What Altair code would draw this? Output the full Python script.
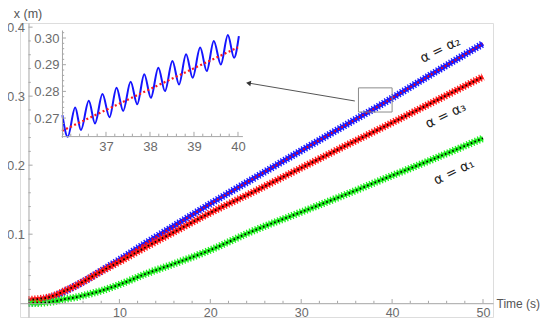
import altair as alt
import pandas as pd

# ---------------- data ----------------
t_main = [0, 1, 2, 3, 4, 5, 6, 8, 10, 13, 16, 20, 24.4, 30, 35, 38.7, 44, 50]
x_alpha2 = [0.000, 0.002, 0.006, 0.011, 0.017, 0.024, 0.031, 0.047, 0.063, 0.088, 0.112, 0.144, 0.178, 0.221, 0.259, 0.287, 0.329, 0.376]
x_alpha3 = [0.005, 0.006, 0.008, 0.012, 0.018, 0.024, 0.031, 0.046, 0.060, 0.082, 0.103, 0.131, 0.159, 0.196, 0.229, 0.253, 0.288, 0.328]
x_alpha1 = [0.000, 0.000, 0.001, 0.003, 0.006, 0.008, 0.011, 0.018, 0.027, 0.043, 0.057, 0.077, 0.103, 0.132, 0.158, 0.178, 0.206, 0.239]

inset_t = [36.01, 36.13, 36.30, 36.43, 36.61, 36.75, 36.92, 37.08, 37.24, 37.39, 37.56, 37.71,
           37.87, 38.02, 38.19, 38.34, 38.51, 38.66, 38.82, 38.97, 39.14, 39.29, 39.45, 39.61,
           39.77, 39.91, 40.02]
inset_x = [0.2711, 0.2630, 0.2740, 0.2655, 0.2765, 0.2680, 0.2790, 0.2703, 0.2814, 0.2727, 0.2836, 0.2752,
           0.2864, 0.2776, 0.2889, 0.2801, 0.2914, 0.2826, 0.2939, 0.2851, 0.2964, 0.2876, 0.2989, 0.2901,
           0.3011, 0.2926, 0.3007]
inset_avg_t = [36.0, 40.0]
inset_avg_x = [0.2652, 0.2965]

rect_t = [36.3, 40.0]
rect_x = [0.277, 0.312]
arrow_t = [35.9, 24.2]
arrow_x = [0.293, 0.319]

label_text = ["α = α₂", "α = α₃", "α = α₁"]
label_t = [45.3, 45.9, 46.8]
label_x = [0.367, 0.272, 0.190]

x_major = [10, 20, 30, 40, 50]
x_minor = [v for v in range(2, 51, 2) if v % 10]
y_major = [0.1, 0.2, 0.3, 0.4]
y_minor = [round(i * 0.02, 2) for i in range(1, 21) if i % 5]
ix_major = [37, 38, 39, 40]
ix_minor = [round(36 + i * 0.2, 1) for i in range(1, 21) if i % 5]
iy_major = [0.27, 0.28, 0.29, 0.30]
iy_minor = [v / 1000 for v in range(264, 304, 2) if v % 10]

# ---------------- layout ----------------
W, H = 473, 294
XD = [-0.935, 51.1]
YD = [-0.02, 0.406]
x_off = -(0 - XD[0]) / (XD[1] - XD[0]) * W
y_off = -(0 - YD[0]) / (YD[1] - YD[0]) * H

IXD = [35.98, 40.1]
IXR = [41.1, 222.4]
IYD = [0.2628, 0.3030]
IYR = [114.3, 7]
ix_off = -(H - (IYR[0] - (0.26325 - IYD[0]) / (IYD[1] - IYD[0]) * (IYR[0] - IYR[1])))
iy_off = -(IXR[0] + (36 - IXD[0]) / (IXD[1] - IXD[0]) * (IXR[1] - IXR[0]))

FONT = "Liberation Sans"
AX_GRAY = "#a6a6a6"
LAB_GRAY = "#6b6b6b"


def xs():
    return alt.Scale(domain=XD, nice=False, zero=False)


def ys():
    return alt.Scale(domain=YD, nice=False, zero=False)


def ixs():
    return alt.Scale(domain=IXD, range=IXR, nice=False, zero=False)


def iys():
    return alt.Scale(domain=IYD, range=IYR, nice=False, zero=False)


common_axis = dict(grid=False, ticks=False, tickSize=0, domainColor=AX_GRAY, domainWidth=1,
                   labelColor=LAB_GRAY, labelFont=FONT, titleFont=FONT, titleColor="#555555",
                   titleFontWeight="normal", zindex=1)

x_axis = alt.Axis(orient="bottom", offset=y_off, values=x_major, format="d",
                  labelFontSize=12.5, labelPadding=3, title="Time (s)", titleFontSize=12,
                  titleX=476, titleY=0, titleAlign="left", titleBaseline="middle", titleAngle=0,
                  **common_axis)
y_axis = alt.Axis(orient="left", offset=x_off, values=y_major, format=".1f",
                  labelFontSize=13, labelPadding=4, title="x (m)", titleFontSize=12.5,
                  titleX=-1, titleY=-10, titleAlign="center", titleBaseline="middle", titleAngle=0,
                  **common_axis)

ix_axis = alt.Axis(orient="bottom", offset=ix_off, values=ix_major, format="d",
                   labelFontSize=13, labelPadding=4, title=None, **common_axis)
iy_axis = alt.Axis(orient="left", offset=iy_off, values=iy_major, format=".2f",
                   labelFontSize=13, labelPadding=3, title=None, **common_axis)

# ---------------- main curves ----------------
colors_band = {"a2": "#1a1aff", "a3": "#ff1a1a", "a1": "#22ee22"}
colors_center = {"a2": "#ff0000", "a3": "#000000", "a1": "#000000"}
layers = []

for name, vals in [("a2", x_alpha2), ("a3", x_alpha3), ("a1", x_alpha1)]:
    df = pd.DataFrame({"t": t_main, "x": vals})
    first = name == "a2"
    layers.append(alt.Chart(df).mark_line(strokeWidth=4.2, interpolate="monotone", color=colors_band[name]).encode(
        x=alt.X("t:Q", scale=xs(), axis=x_axis if first else None),
        y=alt.Y("x:Q", scale=ys(), axis=y_axis if first else None)))
    layers.append(alt.Chart(df).mark_line(strokeWidth=7.5, strokeDash=[1.3, 1.7], interpolate="monotone",
                                          color=colors_band[name]).encode(
        x=alt.X("t:Q", scale=xs(), axis=None),
        y=alt.Y("x:Q", scale=ys(), axis=None)))

for name, vals in [("a2", x_alpha2), ("a3", x_alpha3), ("a1", x_alpha1)]:
    df = pd.DataFrame({"t": t_main, "x": vals})
    layers.append(alt.Chart(df).mark_line(strokeWidth=1.8, strokeDash=[1.6, 2.4], interpolate="monotone",
                                          color=colors_center[name]).encode(
        x=alt.X("t:Q", scale=xs(), axis=None),
        y=alt.Y("x:Q", scale=ys(), axis=None)))

# ---------------- main ticks (drawn inward like the original) ----------------
xt_df = pd.DataFrame({"v": x_major + x_minor, "len": [0.0060] * len(x_major) + [0.0035] * len(x_minor)})
layers.append(alt.Chart(xt_df).transform_calculate(zero="0", top="datum.len").mark_rule(
    color=AX_GRAY, strokeWidth=1).encode(
    x=alt.X("v:Q", scale=xs(), axis=None),
    y=alt.Y("zero:Q", scale=ys(), axis=None),
    y2="top:Q"))

yt_df = pd.DataFrame({"v": y_major + y_minor, "len": [0.45] * len(y_major) + [0.25] * len(y_minor)})
layers.append(alt.Chart(yt_df).transform_calculate(zero="0", right="datum.len").mark_rule(
    color=AX_GRAY, strokeWidth=1).encode(
    y=alt.Y("v:Q", scale=ys(), axis=None),
    x=alt.X("zero:Q", scale=xs(), axis=None),
    x2="right:Q"))

# ---------------- labels ----------------
lab_df = pd.DataFrame({"t": label_t, "x": label_x, "txt": label_text})
layers.append(alt.Chart(lab_df).mark_text(font="DejaVu Sans", fontSize=13.5, angle=334, color="#222222",
                                          align="center", baseline="middle").encode(
    x=alt.X("t:Q", scale=xs(), axis=None),
    y=alt.Y("x:Q", scale=ys(), axis=None),
    text="txt:N"))

# ---------------- callout ----------------
rect_df = pd.DataFrame({"t1": [rect_t[0]], "t2": [rect_t[1]], "x1": [rect_x[0]], "x2": [rect_x[1]]})
layers.append(alt.Chart(rect_df).mark_rect(fillOpacity=0, stroke="#8c8c8c", strokeWidth=1).encode(
    x=alt.X("t1:Q", scale=xs(), axis=None), x2="t2:Q",
    y=alt.Y("x1:Q", scale=ys(), axis=None), y2="x2:Q"))

arrow_df = pd.DataFrame({"t1": [arrow_t[0]], "t2": [arrow_t[1]], "x1": [arrow_x[0]], "x2": [arrow_x[1]]})
layers.append(alt.Chart(arrow_df).mark_rule(color="#555555", strokeWidth=1).encode(
    x=alt.X("t1:Q", scale=xs(), axis=None), x2="t2:Q",
    y=alt.Y("x1:Q", scale=ys(), axis=None), y2="x2:Q"))
layers.append(alt.Chart(arrow_df).mark_point(shape="triangle-left", filled=True, size=30, angle=10,
                                             color="#333333", opacity=1).encode(
    x=alt.X("t2:Q", scale=xs(), axis=None),
    y=alt.Y("x2:Q", scale=ys(), axis=None)))

# ---------------- inset ----------------
inset_df = pd.DataFrame({"t": inset_t, "x": inset_x})
layers.append(alt.Chart(inset_df).mark_line(color="#1414ff", strokeWidth=2, interpolate="monotone").encode(
    x=alt.X("t:Q", scale=ixs(), axis=ix_axis),
    y=alt.Y("x:Q", scale=iys(), axis=iy_axis)))
inset_avg_df = pd.DataFrame({"t": inset_avg_t, "x": inset_avg_x})
layers.append(alt.Chart(inset_avg_df).mark_line(color="#ff1a1a", strokeWidth=2.2, strokeDash=[2, 2.5]).encode(
    x=alt.X("t:Q", scale=ixs(), axis=None),
    y=alt.Y("x:Q", scale=iys(), axis=None)))

ixt_df = pd.DataFrame({"v": ix_major + ix_minor, "len": [0.0016] * len(ix_major) + [0.0009] * len(ix_minor)})
layers.append(alt.Chart(ixt_df).transform_calculate(b0="0.26325", top="0.26325 + datum.len").mark_rule(
    color=AX_GRAY, strokeWidth=1).encode(
    x=alt.X("v:Q", scale=ixs(), axis=None),
    y=alt.Y("b0:Q", scale=iys(), axis=None),
    y2="top:Q"))
iyt_df = pd.DataFrame({"v": iy_major + iy_minor, "len": [0.09] * len(iy_major) + [0.05] * len(iy_minor)})
layers.append(alt.Chart(iyt_df).transform_calculate(l0="36", right="36 + datum.len").mark_rule(
    color=AX_GRAY, strokeWidth=1).encode(
    y=alt.Y("v:Q", scale=iys(), axis=None),
    x=alt.X("l0:Q", scale=ixs(), axis=None),
    x2="right:Q"))

chart = alt.layer(*layers).resolve_scale(x="independent", y="independent").resolve_axis(
    x="independent", y="independent").properties(
    width=W, height=H,
    padding={"left": 12, "top": 15, "right": 49, "bottom": 4},
    autosize=alt.AutoSizeParams(type="none"),
).configure_view(strokeWidth=0).configure(background="white")

chart.save("out.html", embed_options={"renderer": "svg", "actions": False})
